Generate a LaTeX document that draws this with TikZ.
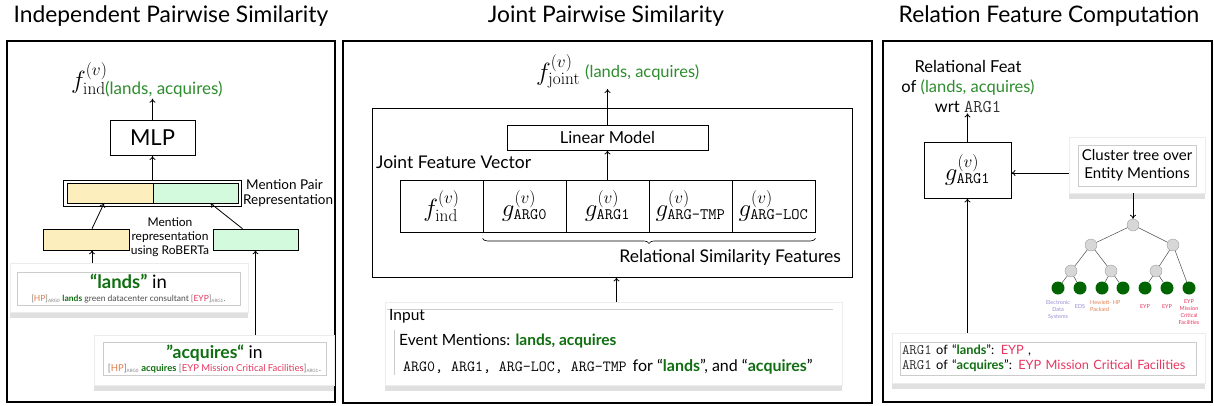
\documentclass[tikz,border=0pt]{standalone}
\usepackage[no-math]{fontspec}
\setmainfont{Lato}
\usetikzlibrary{arrows.meta,shadows,decorations.pathreplacing,calc}
\definecolor{lgreen}{RGB}{45,140,45}
\definecolor{dgreen}{RGB}{15,110,15}
\definecolor{epink}{RGB}{230,55,95}
\definecolor{eorange}{RGB}{225,125,75}
\definecolor{elav}{RGB}{150,140,210}
\definecolor{pyellow}{RGB}{253,238,190}
\definecolor{pgreen}{RGB}{212,250,222}
\definecolor{leafg}{RGB}{0,100,0}
\definecolor{nodegray}{RGB}{215,215,215}
\newcommand{\fs}[1]{\fontsize{#1}{#1}\selectfont}
\newcommand{\ttsub}[1]{\mbox{\fontsize{16}{16}\selectfont\ttfamily #1}}
\newcommand{\sbx}[1]{\textsubscript{\fontsize{4.5}{4.5}\selectfont\color{gray} #1}}
\newcommand{\cour}[2]{{\fontsize{#1}{#1}\selectfont\ttfamily\color{black!80}#2}}
\tikzset{
  panel/.style={draw=black, line width=1.3pt},
  box/.style={draw=black, line width=0.9pt, inner sep=0pt},
  arr/.style={-{To[length=4pt,width=6pt]}, line width=0.8pt},
  card/.style={fill=white, draw=gray!15, line width=0.4pt,
    drop shadow={shadow xshift=0pt, shadow yshift=-6pt, fill=gray!70, opacity=.35}},
  cardin/.style={draw=gray!40, line width=0.5pt, inner sep=0pt},
  ttl/.style={font=\fs{22.8}},
  gnode/.style={circle, fill=nodegray, draw=gray!75, line width=0.4pt, minimum size=12pt, inner sep=0pt},
  lnode/.style={circle, fill=leafg, minimum size=13pt, inner sep=0pt},
  tedge/.style={draw=gray!60!black, line width=0.5pt},
  lab/.style={font=\fontsize{5.5}{7}\selectfont, align=center, inner sep=0pt}
}
\begin{document}
\begin{tikzpicture}[x=1pt,y=-1pt]
\useasboundingbox (0,0) rectangle (1214,405);

%================ Panel 1 =================
\node[ttl] (t1) at (171,16) {Independent Pairwise Similarity};
\draw[panel] (7,41) rectangle (335,402);

\node[inner sep=1pt, anchor=west] (f1) at (70,80) {\fs{26}$f^{(v)}_{\mathrm{ind}\mbox{\fs{17}\color{lgreen}(lands, acquires)}}$};
\node[box, minimum width=85pt, minimum height=35pt] (mlp) at (152.5,138) {\fs{22}MLP};

\node[draw=black, line width=0.6pt, minimum width=178pt, minimum height=26pt, inner sep=0pt] (pair) at (152.5,193) {};
\node[box, line width=0.6pt, fill=pyellow, minimum width=86pt, minimum height=20pt] (py) at (110,193) {};
\node[box, line width=0.6pt, fill=pgreen, minimum width=85pt, minimum height=20pt] (pg) at (195.5,193) {};
\node[align=left, anchor=west, font=\fontsize{13.5}{15}\selectfont, inner sep=0pt] (mpt) at (243,193) {\hspace*{3pt}Mention Pair\\Representation};

\node[box, line width=0.6pt, fill=pyellow, minimum width=86pt, minimum height=21pt] (ry) at (86,239.5) {};
\node[box, line width=0.6pt, fill=pgreen, minimum width=85pt, minimum height=21pt] (rg) at (255.5,239.5) {};
\node[align=center, font=\fontsize{12}{14}\selectfont, inner sep=0pt] (mrt) at (170,237) {Mention\\representation\\using RoBERTa};

\node[card, minimum width=238pt, minimum height=49pt] (cl) at (129,287.5) {};
\node[cardin, minimum width=223pt, minimum height=33pt, align=center] (cli) at (128.5,288.5)
 {{\fs{18.5}\textbf{\color{dgreen}“lands”} in}\\[1pt]
  {\fs{8.5}\color{gray}[\textcolor{eorange}{HP}]\sbx{ARG0} \textbf{\color{dgreen}lands} {\color{black!70}green datacenter consultant} [\textcolor{epink}{EYP}]\sbx{ARG1}.}};

\node[card, minimum width=240pt, minimum height=50pt] (ca) at (214,360) {};
\node[cardin, minimum width=223pt, minimum height=33pt, align=center] (cai) at (214.5,358.5)
 {{\fs{17.5}\textbf{\color{dgreen}”acquires“} in}\\[1pt]
  {\fs{9.5}\color{gray}[\textcolor{eorange}{HP}]\sbx{ARG0} \textbf{\color{dgreen}acquires} [\textcolor{epink}{EYP Mission Critical Facilities}]\sbx{ARG1}.}};

\draw[arr] (mlp.north) -- (mlp.north |- f1.south);
\draw[arr] (pair.north) -- (mlp.south);
\path ([xshift=6pt]ry.north) coordinate (ryn) ([xshift=-6pt]py.south) coordinate (pys);
\draw[arr] (ryn) -- (pys);
\path ([xshift=-13pt]rg.north) coordinate (rgn) ([xshift=15pt]pg.south) coordinate (pgs);
\draw[arr] (rgn) -- (pgs);
\path ([xshift=6pt]ry.south) coordinate (rys);
\draw[arr] (rys |- cl.north) -- (rys);
\draw[arr] (rg.south |- ca.north) -- (rg.south);

%================ Panel 2 =================
\node[ttl] (t2) at (606,16) {Joint Pairwise Similarity};
\draw[panel] (343,41) rectangle (872,403);

\node[inner sep=1pt, anchor=west] (fj) at (535,71) {\fs{26}$f^{(v)}_{\mathrm{joint}}$\hspace{5pt}\raisebox{3pt}{\fs{16.5}\color{lgreen}(lands, acquires)}};
\node[box, minimum width=480pt, minimum height=169pt] (jf) at (612,192.5) {};
\node[box, minimum width=201pt, minimum height=25pt] (lm) at (607.5,137.5) {\fs{16.5}Linear Model};
\node[anchor=west, font=\fs{17.5}, inner sep=0pt] (jfv) at (376,162) {Joint Feature Vector};

\node[box, minimum width=83pt, minimum height=52pt] (b1) at (441.5,206) {\fs{26}$f^{(v)}_{\mathrm{ind}}$};
\node[box, minimum width=83pt, minimum height=52pt] (b2) at (524.5,206) {\fs{26}$g^{(v)}_{\ttsub{ARG0}}$};
\node[box, minimum width=83pt, minimum height=52pt] (b3) at (607.5,206) {\fs{26}$g^{(v)}_{\ttsub{ARG1}}$};
\node[box, minimum width=83pt, minimum height=52pt] (b4) at (690.5,206) {\fs{26}$g^{(v)}_{\ttsub{ARG-TMP}}$};
\node[box, minimum width=83pt, minimum height=52pt] (b5) at (773.5,206) {\fs{26}$g^{(v)}_{\ttsub{ARG-LOC}}$};

\draw[decorate, decoration={brace, mirror, amplitude=5pt}, line width=0.6pt] ([yshift=-6pt]b2.south west) -- ([yshift=-6pt]b5.south east);
\node[anchor=east, font=\fs{17.5}, inner sep=0pt] (rsf) at (841,258) {Relational Similarity Features};

\node[card, minimum width=457pt, minimum height=83pt] (ic) at (613.5,343.5) {};
\draw[gray!40, line width=0.5pt] (ic.north west) ++(2,7) -- ++(446,0);
\draw[gray!40, line width=0.5pt] (ic.north west) ++(9,28) -- ++(0,45);
\node[anchor=west, font=\fs{15.5}, inner sep=0pt] (inp) at (389,316) {Input};
\node[anchor=west, font=\fs{15.5}, inner sep=0pt] (evm) at (399,341) {Event Mentions: \textbf{\color{dgreen}lands, acquires}};
\node[anchor=west, font=\fs{16}, inner sep=0pt] (args) at (403,367) {{\fs{15.5}\ttfamily ARG0, ARG1, ARG-LOC, ARG-TMP}\hspace{6pt}for “\textbf{\color{dgreen}lands}”, and “\textbf{\color{dgreen}acquires}”};

\draw[arr] (lm.north) -- (lm.north |- fj.south);
\draw[arr] (b3.north) -- (lm.south);
\draw[arr] ([xshift=3pt]ic.north) -- ([xshift=3pt]ic.north |- jf.south);

%================ Panel 3 =================
\node[ttl] (t3) at (1049,16) {Relation Feature Computation};
\draw[panel] (883,41) rectangle (1212,402);

\node[align=center, font=\fontsize{16.5}{20}\selectfont, inner sep=0pt] (rf) at (968,87) {Relational Feat\\of \textcolor{lgreen}{(lands, acquires)}\\wrt \cour{18}{ARG1}};
\node[box, minimum width=87pt, minimum height=56pt] (ga) at (967.5,170) {\fs{26}$g^{(v)}_{\ttsub{ARG1}}$};

\node[card, minimum width=136pt, minimum height=56pt] (cc) at (1137,165) {};
\node[cardin, minimum width=118pt, minimum height=41pt, align=center, font=\fontsize{15}{18}\selectfont] (cci) at (1137,165.5) {Cluster tree over\\Entity Mentions};

\node[card, minimum width=313pt, minimum height=50pt] (bc) at (1048.5,358) {};
\node[cardin, minimum width=296pt, minimum height=33pt, align=left, font=\fontsize{12.8}{15}\selectfont, text width=292pt] (bci) at (1048,358.5)
 {\cour{14.5}{ARG1} of “\textbf{\color{dgreen}lands}”: \textcolor{epink}{EYP} ,\\
  \cour{14.5}{ARG1} of “\textbf{\color{dgreen}acquires}”: \textcolor{epink}{EYP Mission Critical Facilities}};

% tree
\node[gnode] (r0) at (1133,225) {};
\node[gnode] (a1) at (1091,245) {};
\node[gnode] (a2) at (1173,245) {};
\node[gnode] (b1t) at (1071,271) {};
\node[gnode] (b2t) at (1111,271) {};
\node[gnode] (b3t) at (1156,271) {};
\node[lnode] (l1) at (1058,288) {};
\node[lnode] (l2) at (1080,288) {};
\node[lnode] (l3) at (1102,288) {};
\node[lnode] (l4) at (1123,288) {};
\node[lnode] (l5) at (1145,288) {};
\node[lnode] (l6) at (1167,288) {};
\node[lnode] (l7) at (1189,288) {};
\draw[tedge] (r0) -- (a1) (r0) -- (a2) (a1) -- (b1t) (a1) -- (b2t) (a2) -- (b3t) (a2) -- (l7)
  (b1t) -- (l1) (b1t) -- (l2) (b2t) -- (l3) (b2t) -- (l4) (b3t) -- (l5) (b3t) -- (l6);
\node[lab, text=elav] (x1) at (1058,310) {Electronic\\Data\\Systems};
\node[lab, text=elav] (x2) at (1080,307) {EDS};
\node[lab, text=eorange, align=left, anchor=north west] (x3) at (1090,300) {Hewlett- HP\\Packard};
\node[lab, text=epink] (x5) at (1145,307) {EYP};
\node[lab, text=epink] (x6) at (1167,307) {EYP};
\node[lab, text=epink, anchor=north] (x7) at (1189,299) {EYP\\Mission\\Critical\\Facilities};

\draw[arr] (ga.north) -- (ga.north |- rf.south);
\path (cc.west) ++(0,8) coordinate (ccw);
\draw[arr] (ccw) -- (ccw -| ga.east);
\draw[arr] (cc.south -| r0) -- (r0.north);
\draw[arr] (bc.north -| ga) -- (ga.south);
\end{tikzpicture}
\end{document}
